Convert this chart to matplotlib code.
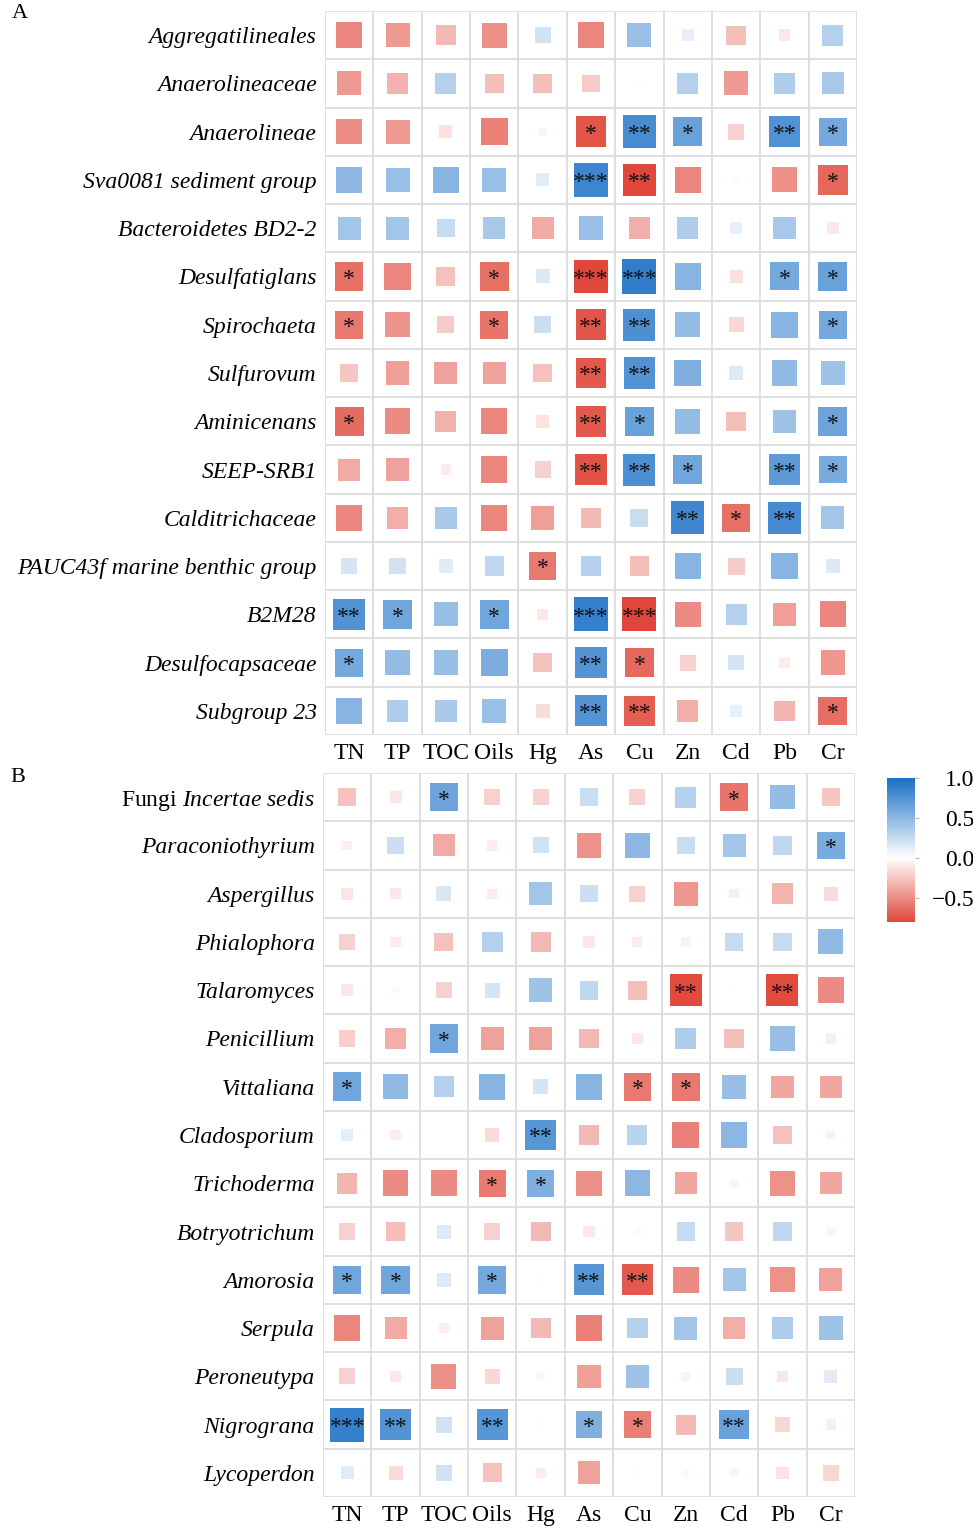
import numpy as np
import matplotlib
matplotlib.use("Agg")
import matplotlib.pyplot as plt
from matplotlib.patches import Rectangle
from matplotlib.colors import LinearSegmentedColormap, Normalize
from matplotlib.cm import ScalarMappable

plt.rcParams['font.family'] = ['Liberation Serif', 'DejaVu Serif']
plt.rcParams['mathtext.fontset'] = 'custom'
plt.rcParams['mathtext.rm'] = 'Liberation Serif'
plt.rcParams['mathtext.it'] = 'Liberation Serif:italic'

# --- data ---
env_vars = ["TN", "TP", "TOC", "Oils", "Hg", "As", "Cu", "Zn", "Cd", "Pb", "Cr"]

taxa_A = ["Aggregatilineales", "Anaerolineaceae", "Anaerolineae", "Sva0081 sediment group",
          "Bacteroidetes BD2-2", "Desulfatiglans", "Spirochaeta", "Sulfurovum", "Aminicenans",
          "SEEP-SRB1", "Calditrichaceae", "PAUC43f marine benthic group", "B2M28",
          "Desulfocapsaceae", "Subgroup 23"]

r_A = [
    [-0.52, -0.44, -0.30, -0.48,  0.20, -0.52,  0.44,  0.11, -0.28, -0.10,  0.33],
    [-0.44, -0.33,  0.33, -0.28, -0.28, -0.23,  0.02,  0.33, -0.44,  0.35,  0.37],
    [-0.49, -0.44, -0.13, -0.55, -0.05, -0.73,  0.80,  0.65, -0.20,  0.76,  0.60],
    [ 0.49,  0.44,  0.52,  0.44,  0.13,  0.84, -0.80, -0.52, -0.03, -0.48, -0.66],
    [ 0.40,  0.40,  0.25,  0.37, -0.37,  0.44, -0.35,  0.35,  0.10,  0.38, -0.10],
    [-0.62, -0.52, -0.27, -0.62,  0.15, -0.84,  0.89,  0.52, -0.13,  0.60,  0.65],
    [-0.58, -0.46, -0.22, -0.60,  0.23, -0.73,  0.78,  0.47, -0.17,  0.52,  0.60],
    [-0.25, -0.42, -0.40, -0.40, -0.27, -0.72,  0.75,  0.55,  0.15,  0.48,  0.42],
    [-0.64, -0.50, -0.33, -0.52, -0.12, -0.72,  0.65,  0.47, -0.28,  0.42,  0.63],
    [-0.37, -0.40, -0.08, -0.52, -0.20, -0.75,  0.78,  0.62,  0.00,  0.70,  0.58],
    [-0.52, -0.35,  0.37, -0.52, -0.42, -0.30,  0.24,  0.83, -0.62,  0.81,  0.40],
    [ 0.18,  0.20,  0.14,  0.28, -0.58,  0.33, -0.28,  0.52, -0.22,  0.52,  0.15],
    [ 0.75,  0.62,  0.45,  0.62, -0.10,  0.88, -0.88, -0.50,  0.33, -0.42, -0.52],
    [ 0.60,  0.47,  0.45,  0.57, -0.26,  0.74, -0.65, -0.20,  0.18, -0.08, -0.45],
    [ 0.52,  0.35,  0.37,  0.44, -0.15,  0.74, -0.70, -0.35,  0.10, -0.32, -0.63],
]

sig_A = [
    [0, 0, 0, 0, 0, 0, 0, 0, 0, 0, 0],
    [0, 0, 0, 0, 0, 0, 0, 0, 0, 0, 0],
    [0, 0, 0, 0, 0, 1, 2, 1, 0, 2, 1],
    [0, 0, 0, 0, 0, 3, 2, 0, 0, 0, 1],
    [0, 0, 0, 0, 0, 0, 0, 0, 0, 0, 0],
    [1, 0, 0, 1, 0, 3, 3, 0, 0, 1, 1],
    [1, 0, 0, 1, 0, 2, 2, 0, 0, 0, 1],
    [0, 0, 0, 0, 0, 2, 2, 0, 0, 0, 0],
    [1, 0, 0, 0, 0, 2, 1, 0, 0, 0, 1],
    [0, 0, 0, 0, 0, 2, 2, 1, 0, 2, 1],
    [0, 0, 0, 0, 0, 0, 0, 2, 1, 2, 0],
    [0, 0, 0, 0, 1, 0, 0, 0, 0, 0, 0],
    [2, 1, 0, 1, 0, 3, 3, 0, 0, 0, 0],
    [1, 0, 0, 0, 0, 2, 1, 0, 0, 0, 0],
    [0, 0, 0, 0, 0, 2, 2, 0, 0, 0, 1],
]

taxa_B = ["Fungi Incertae sedis", "Paraconiothyrium", "Aspergillus", "Phialophora",
          "Talaromyces", "Penicillium", "Vittaliana", "Cladosporium", "Trichoderma",
          "Botryotrichum", "Amorosia", "Serpula", "Peroneutypa", "Nigrograna", "Lycoperdon"]

r_B = [
    [-0.26, -0.11,  0.63, -0.20, -0.20,  0.23, -0.20,  0.33, -0.60,  0.46, -0.25],
    [-0.07,  0.22, -0.37, -0.08,  0.20, -0.47,  0.50,  0.24,  0.40,  0.27,  0.58],
    [-0.11, -0.10,  0.17, -0.08,  0.40,  0.22, -0.20, -0.45, -0.07, -0.32, -0.15],
    [-0.20, -0.08, -0.27,  0.33, -0.30, -0.10, -0.08,  0.07,  0.25,  0.25,  0.48],
    [-0.10, -0.03, -0.20,  0.18,  0.42,  0.27, -0.28, -0.78,  0.01, -0.78, -0.50],
    [-0.21, -0.35,  0.62, -0.40, -0.40, -0.30, -0.10,  0.35, -0.28,  0.45, -0.08],
    [ 0.62,  0.48,  0.32,  0.52,  0.18,  0.52, -0.58, -0.58,  0.45, -0.38, -0.38],
    [ 0.12, -0.08,  0.00, -0.15,  0.73, -0.30,  0.30, -0.55,  0.50, -0.27, -0.06],
    [-0.32, -0.50, -0.50, -0.57,  0.55, -0.48,  0.50, -0.38, -0.05, -0.47, -0.38],
    [-0.20, -0.28,  0.15, -0.20, -0.30, -0.10,  0.03,  0.25, -0.25,  0.27, -0.05],
    [ 0.62,  0.62,  0.15,  0.60,  0.02,  0.73, -0.72, -0.50,  0.40, -0.47, -0.40],
    [-0.52, -0.37, -0.08, -0.40, -0.30, -0.55,  0.33,  0.40, -0.35,  0.35,  0.42],
    [-0.20, -0.10, -0.48, -0.17,  0.05, -0.42,  0.42, -0.06,  0.22, -0.10,  0.13],
    [ 0.88,  0.75,  0.20,  0.73,  0.02,  0.55, -0.56, -0.30,  0.65, -0.18,  0.08],
    [ 0.13, -0.15,  0.20, -0.27, -0.08, -0.40,  0.02, -0.04, -0.05, -0.12, -0.18],
]

sig_B = [
    [0, 0, 1, 0, 0, 0, 0, 0, 1, 0, 0],
    [0, 0, 0, 0, 0, 0, 0, 0, 0, 0, 1],
    [0, 0, 0, 0, 0, 0, 0, 0, 0, 0, 0],
    [0, 0, 0, 0, 0, 0, 0, 0, 0, 0, 0],
    [0, 0, 0, 0, 0, 0, 0, 2, 0, 2, 0],
    [0, 0, 1, 0, 0, 0, 0, 0, 0, 0, 0],
    [1, 0, 0, 0, 0, 0, 1, 1, 0, 0, 0],
    [0, 0, 0, 0, 2, 0, 0, 0, 0, 0, 0],
    [0, 0, 0, 1, 1, 0, 0, 0, 0, 0, 0],
    [0, 0, 0, 0, 0, 0, 0, 0, 0, 0, 0],
    [1, 1, 0, 1, 0, 2, 2, 0, 0, 0, 0],
    [0, 0, 0, 0, 0, 0, 0, 0, 0, 0, 0],
    [0, 0, 0, 0, 0, 0, 0, 0, 0, 0, 0],
    [3, 2, 0, 2, 0, 1, 1, 0, 2, 0, 0],
    [0, 0, 0, 0, 0, 0, 0, 0, 0, 0, 0],
]

# --- colours: red (neg) -> white -> blue (pos), bar spans -0.8..1.0 ---
vmin, vmax = -0.8, 1.0
mid = (0 - vmin) / (vmax - vmin)
cmap = LinearSegmentedColormap.from_list(
    "rwb", [(0.0, "#E0473A"), (mid, "#FFFFFF"), (1.0, "#1A6FC6")])
norm = Normalize(vmin, vmax)

W, H = 973, 1529
fig = plt.figure(figsize=(W / 100, H / 100), dpi=100)


def draw_panel(ax, r, sig, taxa, letter):
    r = np.array(r)
    nrow, ncol = r.shape
    ax.set_xlim(0, ncol)
    ax.set_ylim(nrow, 0)
    for i in range(nrow):
        for j in range(ncol):
            v = r[i, j]
            s = 0.75 * np.sqrt(abs(v))
            ax.add_patch(Rectangle((j + 0.5 - s / 2, i + 0.5 - s / 2), s, s,
                                   facecolor=cmap(norm(v)), edgecolor='none', zorder=2))
            if sig[i][j]:
                ax.text(j + 0.5, i + 0.56, "*" * sig[i][j], ha='center', va='center',
                        fontsize=17, color='#111111', zorder=3)
    for k in range(ncol + 1):
        ax.axvline(k, color='#DCDCDC', lw=1.3, zorder=1)
    for k in range(nrow + 1):
        ax.axhline(k, color='#DCDCDC', lw=1.3, zorder=1)
    for sp in ax.spines.values():
        sp.set_visible(False)
    ax.set_xticks(np.arange(ncol) + 0.5)
    ax.set_xticklabels(env_vars, fontsize=17)
    ax.set_yticks(np.arange(nrow) + 0.5)
    labels = []
    for t in taxa:
        if t.startswith("Fungi "):
            labels.append(r"Fungi $\mathit{Incertae\ sedis}$")
        else:
            labels.append(t)
    ax.set_yticklabels(labels, fontsize=17)
    for lab, t in zip(ax.get_yticklabels(), taxa):
        if not t.startswith("Fungi "):
            lab.set_fontstyle('italic')
    ax.tick_params(length=0, pad=6)


axA = fig.add_axes([325 / W, 1 - 735 / H, 532 / W, 724 / H])
draw_panel(axA, r_A, sig_A, taxa_A, "A")
axB = fig.add_axes([323 / W, 1 - 1497 / H, 532 / W, 724 / H])
draw_panel(axB, r_B, sig_B, taxa_B, "B")

fig.text(12 / W, 1 - 14 / H, "A", fontsize=16, va='center', ha='left')
fig.text(10 / W, 1 - 777 / H, "B", fontsize=16, va='center', ha='left')

# colour bar
cax = fig.add_axes([887 / W, 1 - 922 / H, 28 / W, 144 / H])
cb = fig.colorbar(ScalarMappable(norm=norm, cmap=cmap), cax=cax)
cb.outline.set_visible(False)
cb.set_ticks([-0.5, 0.0, 0.5, 1.0])
cb.set_ticklabels(["\u22120.5", "0.0", "0.5", "1.0"])
cax.tick_params(length=3, width=0.8, color='#BBBBBB', labelsize=17, pad=40)
for lab in cax.get_yticklabels():
    lab.set_horizontalalignment('right')

fig.savefig("out.png", dpi=100, facecolor='white')
